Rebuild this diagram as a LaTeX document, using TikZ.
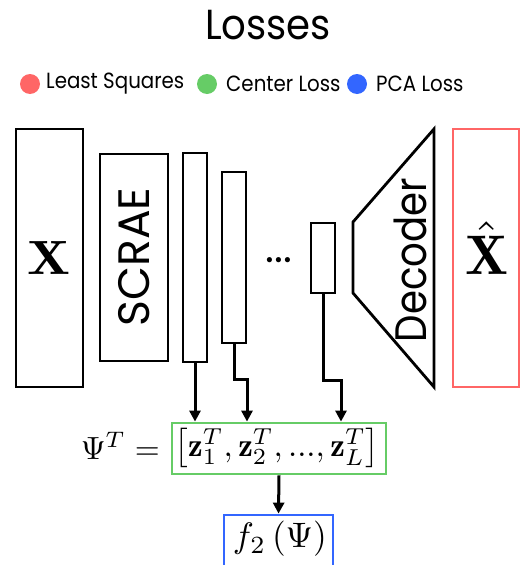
\documentclass[tikz,border=0pt]{standalone}
\usepackage{amsmath}
\usepackage{graphicx}
\usepackage{fontspec}
\newfontfamily\geo{Poppins}
\newfontfamily\geon[FakeStretch=0.9]{Poppins}
\newfontfamily\geot[FakeStretch=0.92]{Poppins}
\newfontfamily\geod[FakeStretch=0.88]{Poppins}
\usetikzlibrary{arrows.meta,calc}
\definecolor{lred}{HTML}{FF6666}
\definecolor{lgreen}{HTML}{66CC66}
\definecolor{lblue}{HTML}{3366FF}
\tikzset{
  blk/.style={draw=black,line width=2.8pt,minimum width=#1,inner sep=0pt},
  arr/.style={line width=3pt,-{Triangle[length=11pt,width=11pt]}},
  legtext/.style={font=\geon\fontsize{22}{24}\selectfont,anchor=west,inner sep=0pt},
}
\begin{document}
\begin{tikzpicture}[x=1pt,y=-1pt]
\useasboundingbox (0,0) rectangle (522,565);
% title
\node[font=\geot\fontsize{42}{46}\selectfont] (title) at (268,25) {Losses};
% legend
\fill[lred] (30,84) circle (10);
\node[legtext] (lg1) at (46,84) {Least Squares};
\fill[lgreen] (207,84) circle (10);
\node[legtext] (lg2) at (226,84) {Center Loss};
\fill[lblue] (357,84) circle (10);
\node[legtext] (lg3) at (376,84) {PCA Loss};
% boxes
\node[blk=67pt,minimum height=258pt] (xbox) at (49.5,258) {\resizebox{43pt}{33pt}{$\mathbf{X}$}};
\node[blk=68pt,minimum height=207pt] (scrae) at (134,257.5) {};
\node[rotate=90,font=\geo\fontsize{44}{48}\selectfont,inner sep=0pt] (scraetext) at (134,257) {SCRAE};
\node[blk=24pt,minimum height=209pt] (l1) at (195,257.5) {};
\node[blk=24pt,minimum height=171pt] (l2) at (234,257.5) {};
\node[font=\geo\fontsize{42}{44}\selectfont,inner sep=0pt,anchor=base] (dots) at (279,262) {...};
\node[blk=24pt,minimum height=70pt] (lL) at (323,258) {};
% decoder
\draw[line width=2.8pt,line join=miter] (353,222) coordinate (d1) -- (434,129) coordinate (d2) -- (434,387) coordinate (d3) -- (353,293) coordinate (d4) -- cycle;
\node[rotate=90,font=\geod\fontsize{44}{48}\selectfont,inner sep=0pt] (dectext) at (410,260) {Decoder};
% x hat
\node[draw=lred,line width=2.8pt,minimum width=66pt,minimum height=258pt,inner sep=0pt] (xhat) at (486,258) {};
\node[inner sep=0pt,anchor=south] (xhattext) at (487,275) {\resizebox{43pt}{53pt}{$\hat{\mathbf{X}}$}};
% Psi
\node[draw=lgreen,line width=2.8pt,minimum width=214pt,minimum height=51pt,inner sep=0pt] (green) at (279,448.5) {};
\node[inner sep=0pt] (zvec) at (277,448) {\resizebox{205pt}{!}{$\left[\mathbf{z}_1^T,\mathbf{z}_2^T,...,\mathbf{z}_L^T\right]$}};
\node[anchor=east,inner sep=0pt] (psi) at (160,446) {\resizebox{79pt}{!}{$\Psi^T=$}};
\node[draw=lblue,line width=2.8pt,minimum width=109pt,minimum height=56pt,inner sep=0pt] (blue) at (278.5,543) {};
\node[inner sep=0pt] (ftext) at (280,539) {\resizebox{94pt}{!}{$f_2\left(\Psi\right)$}};
% connectors
\draw[arr] (l1.south) -- (l1.south |- green.north);
\draw[arr] (l2.south) -- ++(0,35) coordinate (b2) -- ($(b2)+(13,0)$) coordinate (c2) -- (c2 |- green.north);
\draw[arr] (lL.south) -- ++(0,86) coordinate (b3) -- ($(b3)+(18,0)$) coordinate (c3) -- (c3 |- green.north);
\draw[arr] (green.south) -- (blue.north);
\end{tikzpicture}
\end{document}
